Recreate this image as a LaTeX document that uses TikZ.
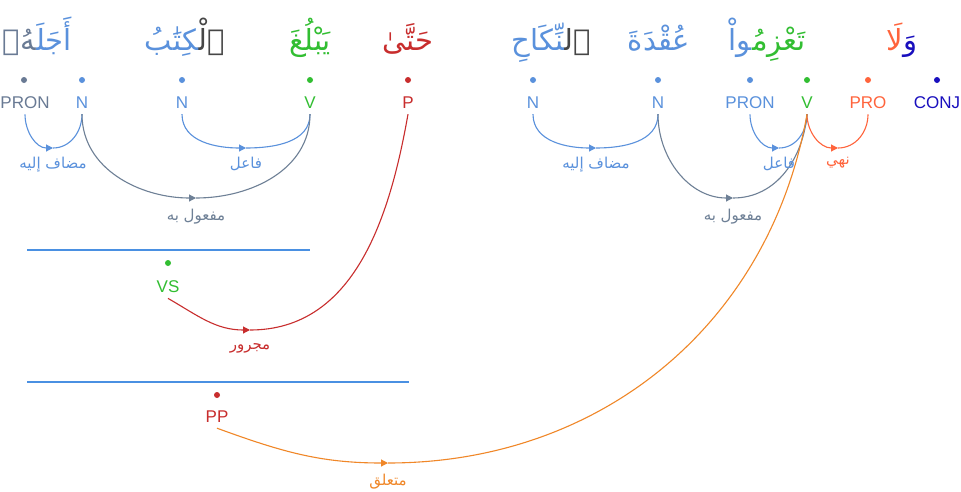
\documentclass[tikz,border=0pt]{standalone}
\usepackage{fontspec}
\setmainfont{Liberation Sans}
\newfontfamily\arabicfont[Script=Arabic]{DejaVu Sans}
\TeXXeTstate=1
\usetikzlibrary{positioning,arrows.meta}

\definecolor{nounblue}{RGB}{90,145,220}
\definecolor{pronslate}{RGB}{105,122,148}
\definecolor{verbgreen}{RGB}{50,190,50}
\definecolor{prepred}{RGB}{200,45,45}
\definecolor{proorange}{RGB}{255,100,60}
\definecolor{conjblue}{RGB}{25,15,190}
\definecolor{detgrey}{RGB}{70,70,70}
\definecolor{linkslate}{RGB}{110,128,150}
\definecolor{linkorange}{RGB}{240,135,40}
\definecolor{ruleblue}{RGB}{74,144,226}

\tikzset{
  word/.style={font=\arabicfont\fontsize{29}{34}\selectfont, inner sep=0pt, anchor=base},
  tag/.style={font=\fontsize{17}{20}\selectfont, inner xsep=0pt, inner ysep=6pt, anchor=base},
  dot/.style={circle, fill, inner sep=0pt, minimum size=6pt},
  rel/.style={font=\arabicfont\fontsize{15}{18}\selectfont, inner sep=0pt},
  link/.style={line width=1.1pt},
  tip/.style={-{Triangle[length=7pt,width=7pt]}},
  rulebar/.style={line width=1.2pt, ruleblue}
}

\begin{document}
\begin{tikzpicture}[x=1pt, y=-1pt]
    \useasboundingbox[fill=white] (0,0) rectangle (961,491);

    % Words (split words: first part on the right, second part to its left)
    \node[word, nounblue, anchor=base east] (wAjalA) at (72,50) {\beginR أَجَلَ^^^^200d\endR};
    \node[word, pronslate, anchor=base east] (wAjalB) at (wAjalA.base west) {\beginR ^^^^200dهُۥ\endR};
    \node[word, detgrey, anchor=base east] (wKitabA) at (225,50) {\beginR ٱلْ^^^^200d\endR};
    \node[word, nounblue, anchor=base east] (wKitabB) at (wKitabA.base west) {\beginR ^^^^200dكِتَٰبُ\endR};
    \node[word, verbgreen] (wYablugh) at (310,50) {\beginR يَبْلُغَ\endR};
    \node[word, prepred] (wHatta) at (408,50) {\beginR حَتَّىٰ\endR};
    \node[word, detgrey, anchor=base east] (wNikahA) at (591,50) {\beginR ٱل^^^^200d\endR};
    \node[word, nounblue, anchor=base east] (wNikahB) at (wNikahA.base west) {\beginR ^^^^200dنِّكَاحِ\endR};
    \node[word, nounblue] (wUqda) at (659,50) {\beginR عُقْدَةَ\endR};
    \node[word, verbgreen, anchor=base east] (wTazimuA) at (806,50) {\beginR تَعْزِمُ^^^^200d\endR};
    \node[word, nounblue, anchor=base east] (wTazimuB) at (wTazimuA.base west) {\beginR ^^^^200dواْ\endR};
    \node[word, conjblue, anchor=base east] (wWalaA) at (918,50) {\beginR وَ\endR};
    \node[word, proorange, anchor=base east] (wWalaB) at (wWalaA.base west) {\beginR لَا\endR};

    % Dots
    \node[dot, pronslate] (dPronB) at (24,80) {};
    \node[dot, nounblue] (dND) at (82,80) {};
    \node[dot, nounblue] (dNC) at (182,80) {};
    \node[dot, verbgreen] (dVB) at (310,80) {};
    \node[dot, prepred] (dPrep) at (408,80) {};
    \node[dot, nounblue] (dNB) at (533,80) {};
    \node[dot, nounblue] (dNA) at (658,80) {};
    \node[dot, nounblue] (dPronA) at (750,80) {};
    \node[dot, verbgreen] (dVA) at (807,80) {};
    \node[dot, proorange] (dPro) at (868,80) {};
    \node[dot, conjblue] (dConj) at (937,80) {};

    % Tags
    \node[tag, pronslate] (pronB) at (25,108) {PRON};
    \node[tag, nounblue] (nD) at (82,108) {N};
    \node[tag, nounblue] (nC) at (182,108) {N};
    \node[tag, verbgreen] (vB) at (310,108) {V};
    \node[tag, prepred] (prep) at (408,108) {P};
    \node[tag, nounblue] (nB) at (533,108) {N};
    \node[tag, nounblue] (nA) at (658,108) {N};
    \node[tag, nounblue] (pronA) at (750,108) {PRON};
    \node[tag, verbgreen] (vA) at (807,108) {V};
    \node[tag, proorange] (pro) at (868,108) {PRO};
    \node[tag, conjblue] (conj) at (937,108) {CONJ};

    % Hidden phrases
    \draw[rulebar] (27,250) -- (310,250);
    \node[dot, verbgreen] (dVS) at (168,263) {};
    \node[tag, verbgreen] (vs) at (168,292) {VS};
    \draw[rulebar] (27,382) -- (409,382);
    \node[dot, prepred] (dPP) at (217,395) {};
    \node[tag, prepred] (pp) at (217,422) {PP};

    % Arc bottoms
    \coordinate (m1) at (53,148);
    \coordinate (m2) at (246,148);
    \coordinate (m3) at (196,198);
    \coordinate (m4) at (596,148);
    \coordinate (m5) at (779,148);
    \coordinate (m6) at (838,148);
    \coordinate (m7) at (733,198);
    \coordinate (m8) at (250,330);
    \coordinate (m9) at (388,463);

    % Dependency arcs
    \draw[link, nounblue, tip] (pronB.south) to[out=-90, in=180] (m1);
    \draw[link, nounblue] (m1) to[out=0, in=-90] (nD.south);
    \draw[link, nounblue, tip] (nC.south) to[out=-90, in=180] (m2);
    \draw[link, nounblue] (m2) to[out=0, in=-90] (vB.south);
    \draw[link, linkslate, tip] (nD.south) to[out=-90, in=180] (m3);
    \draw[link, linkslate] (m3) to[out=0, in=-90] (vB.south);
    \draw[link, nounblue, tip] (nB.south) to[out=-90, in=180] (m4);
    \draw[link, nounblue] (m4) to[out=0, in=-90] (nA.south);
    \draw[link, nounblue, tip] (pronA.south) to[out=-90, in=180] (m5);
    \draw[link, nounblue] (m5) to[out=0, in=-90] (vA.south);
    \draw[link, proorange, tip] (vA.south) to[out=-90, in=180] (m6);
    \draw[link, proorange] (m6) to[out=0, in=-90] (pro.south);
    \draw[link, linkslate, tip] (nA.south) to[out=-90, in=180] (m7);
    \draw[link, linkslate] (m7) to[out=0, in=-95] (vA.south);
    \draw[link, prepred, tip] (vs.south) to[out=-30, in=180] (m8);
    \draw[link, prepred] (m8) to[out=0, in=-100] (prep.south);
    \draw[link, linkorange, tip] (pp.south) to[out=-20, in=180] (m9);
    \draw[link, linkorange] (m9) to[out=0, in=-100] (vA.south);

    % Relation labels
    \node[rel, nounblue, below=9pt of m1] (lMudafB) {\beginR مضاف إليه\endR};
    \node[rel, nounblue, below=9pt of m2] (lFailB) {\beginR فاعل\endR};
    \node[rel, linkslate, below=11pt of m3] (lMafulB) {\beginR مفعول به\endR};
    \node[rel, nounblue, below=9pt of m4] (lMudafA) {\beginR مضاف إليه\endR};
    \node[rel, nounblue, below=9pt of m5] (lFailA) {\beginR فاعل\endR};
    \node[rel, proorange, below=9pt of m6] (lNahy) {\beginR نهي\endR};
    \node[rel, linkslate, below=11pt of m7] (lMafulA) {\beginR مفعول به\endR};
    \node[rel, prepred, below=13pt of m8] (lMajrur) {\beginR مجرور\endR};
    \node[rel, linkorange, below=11pt of m9] (lMutaallaq) {\beginR متعلق\endR};
\end{tikzpicture}
\end{document}
